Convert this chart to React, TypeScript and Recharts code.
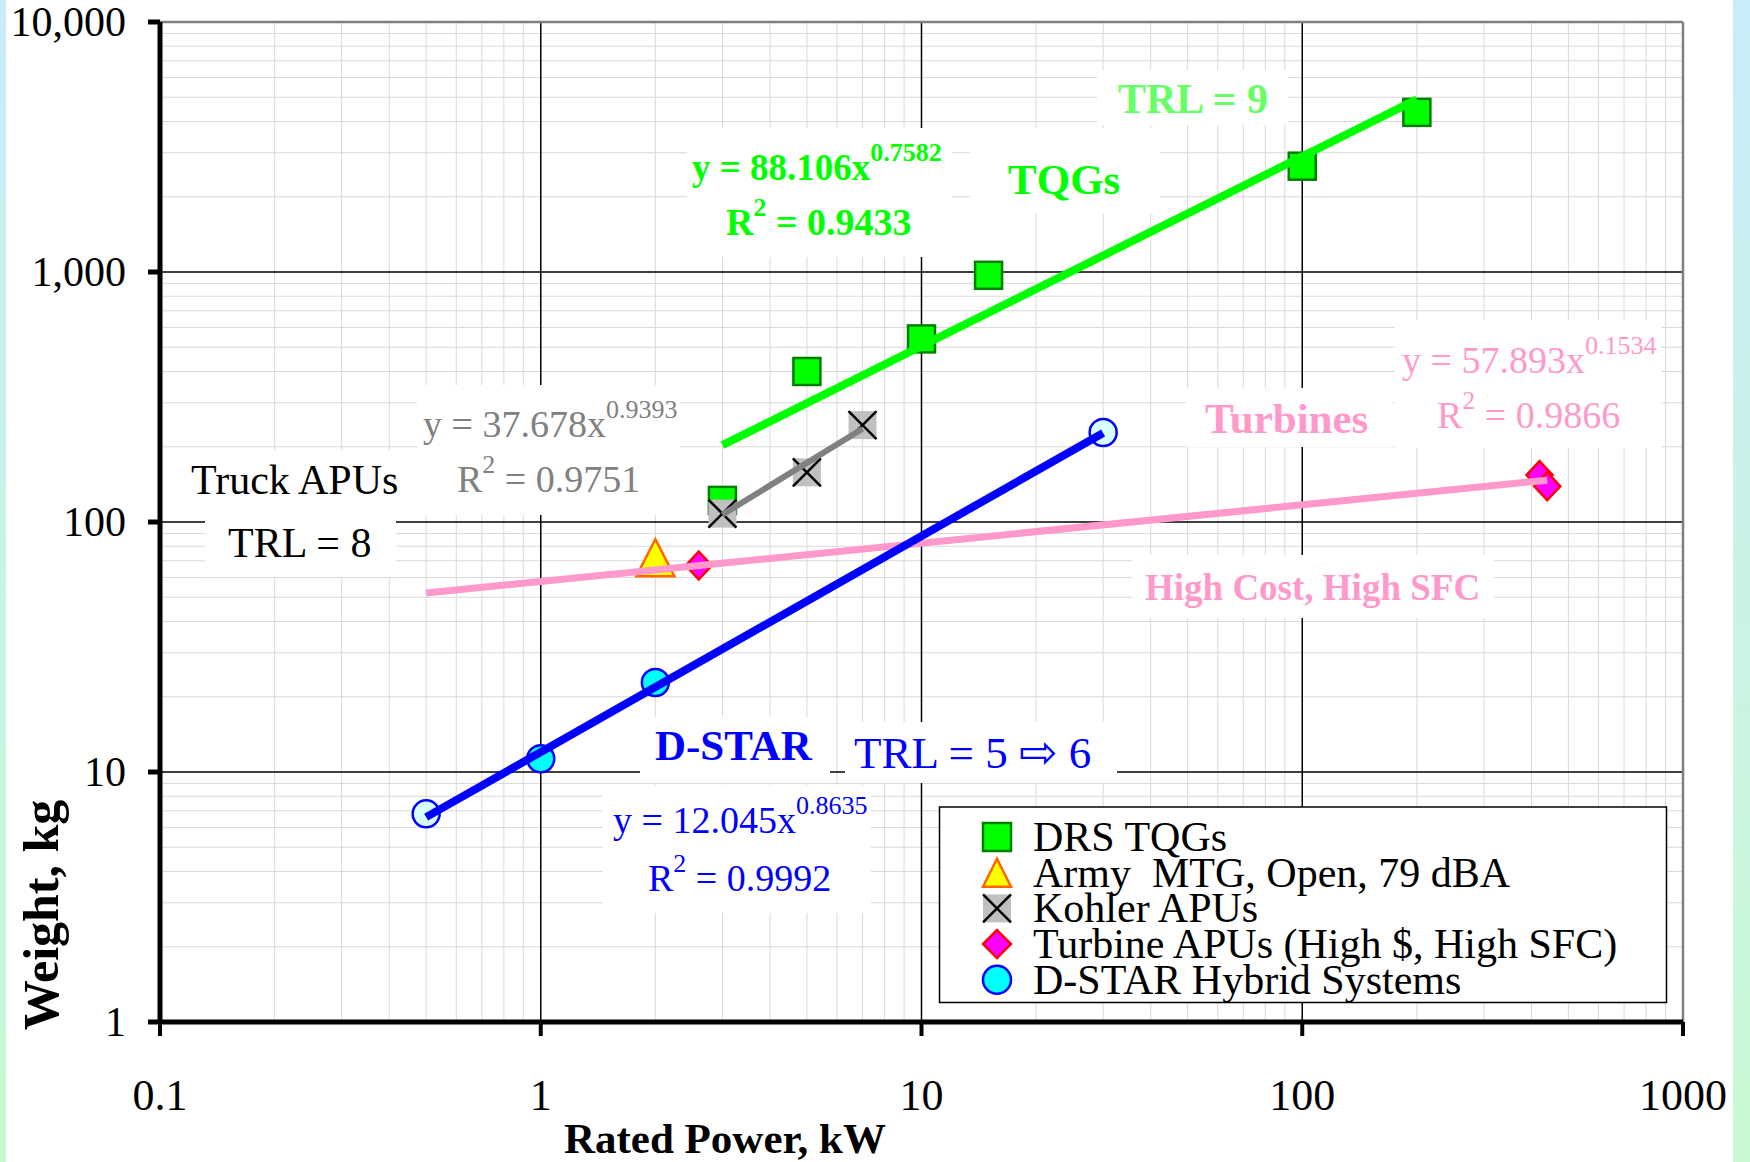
import React from 'react';
import { ScatterChart, Scatter, XAxis, YAxis, CartesianGrid, ReferenceLine } from 'recharts';

// axis ticks
const xTicks = [0.1, 1, 10, 100, 1000];
const yTicks = [1, 10, 100, 1000, 10000];
const xMajorGrid = [1, 10, 100];
const yMajorGrid = [10, 100, 1000];
const minorSteps = [2, 3, 4, 5, 6, 7, 8, 9];
const xMinorGrid = [0.1, 1, 10, 100].flatMap((d) => minorSteps.map((m) => +(d * m).toPrecision(3)));
const yMinorGrid = [1, 10, 100, 1000].flatMap((d) => minorSteps.map((m) => d * m));

// series (rated power kW / weight kg)
const tqgPower = [3, 5, 10, 15, 100, 200];
const tqgWeight = [122, 400, 540, 970, 2650, 4350];
const armyPower = [2];
const armyWeight = [72];
const kohlerPower = [3, 5, 7];
const kohlerWeight = [108, 158, 244];
const turbinePower = [2.6, 420, 440];
const turbineWeight = [67, 154, 139];
const dstarPower = [1, 2];
const dstarWeight = [11.3, 22.8];
const dstarProjPower = [0.5, 30];
const dstarProjWeight = [6.8, 228];

// power-law trend lines, end points
const tqgFitPower = [3, 200];
const tqgFitWeight = [203, 4900];
const kohlerFitPower = [3, 7];
const kohlerFitWeight = [107, 236];
const turbineFitPower = [0.5, 440];
const turbineFitWeight = [52, 147];
const dstarFitPower = [0.5, 30];
const dstarFitWeight = [6.6, 227];

const legendItems = [
  'DRS TQGs',
  'Army  MTG, Open, 79 dBA',
  'Kohler APUs',
  'Turbine APUs (High $, High SFC)',
  'D-STAR Hybrid Systems',
];

const pts = (xs: number[], ys: number[]) => xs.map((x, i) => ({ x, y: ys[i] }));

const FONT = '"Liberation Serif", "Times New Roman", serif';
const GREEN = '#00ff00';
const PINK = '#ff99cc';
const BLUE = '#0000ff';
const GRAY = '#808080';

const square = (cx: number, cy: number, s = 27) => (
  <rect x={cx - s / 2} y={cy - s / 2} width={s} height={s} fill={GREEN} stroke="#008000" strokeWidth={2.5} />
);
const triangle = (cx: number, cy: number, w = 38, h = 37) => (
  <polygon
    points={`${cx},${cy - h / 2} ${cx + w / 2},${cy + h / 2} ${cx - w / 2},${cy + h / 2}`}
    fill="#ffff00"
    stroke="#ff6600"
    strokeWidth={2.5}
  />
);
const xBox = (cx: number, cy: number, s = 28) => (
  <g>
    <rect x={cx - s / 2} y={cy - s / 2} width={s} height={s} fill="#c0c0c0" />
    <line x1={cx - s / 2} y1={cy - s / 2} x2={cx + s / 2} y2={cy + s / 2} stroke="#000" strokeWidth={2.5} />
    <line x1={cx + s / 2} y1={cy - s / 2} x2={cx - s / 2} y2={cy + s / 2} stroke="#000" strokeWidth={2.5} />
  </g>
);
const diamond = (cx: number, cy: number, w = 26, h = 28) => (
  <polygon
    points={`${cx},${cy - h / 2} ${cx + w / 2},${cy} ${cx},${cy + h / 2} ${cx - w / 2},${cy}`}
    fill="#ff00ff"
    stroke="#ff0000"
    strokeWidth={2.5}
  />
);
const circle = (cx: number, cy: number, fill = '#00ffff', r = 13.5) => (
  <circle cx={cx} cy={cy} r={r} fill={fill} stroke={BLUE} strokeWidth={2.5} />
);

const legendMarkers = [
  (cx: number, cy: number) => square(cx, cy, 28),
  (cx: number, cy: number) => triangle(cx, cy, 28, 28),
  (cx: number, cy: number) => xBox(cx, cy, 28),
  (cx: number, cy: number) => diamond(cx, cy, 28, 28),
  (cx: number, cy: number) => circle(cx, cy, '#00ffff', 14),
];

const noShape = () => <g />;

const XTick = ({ x, y, payload }: any) => (
  <text x={x} y={y + 74} textAnchor="middle" fontSize={44} fontFamily={FONT} fill="#000">
    {payload.value}
  </text>
);
const YTick = ({ x, y, payload }: any) => (
  <text x={x - 22} y={y + 14} textAnchor="end" fontSize={42} fontFamily={FONT} fill="#000">
    {Number(payload.value).toLocaleString('en-US')}
  </text>
);

const Box = ({ x1, y1, x2, y2 }: { x1: number; y1: number; x2: number; y2: number }) => (
  <rect x={x1} y={y1} width={x2 - x1} height={y2 - y1} fill="#fff" />
);

const Eq = ({ x, y, coef, exp, color, bold, size = 38 }: any) => (
  <text x={x} y={y} fill={color} fontSize={size} fontFamily={FONT} fontWeight={bold ? 'bold' : 'normal'} xmlSpace="preserve">
    {`y = ${coef}x`}
    <tspan dy={-19} fontSize={26}>{exp}</tspan>
  </text>
);
const R2 = ({ x, y, value, color, bold, size = 38 }: any) => (
  <text x={x} y={y} fill={color} fontSize={size} fontFamily={FONT} fontWeight={bold ? 'bold' : 'normal'} xmlSpace="preserve">
    R<tspan dy={-19} fontSize={26}>2</tspan>
    <tspan dy={19}>{` = ${value}`}</tspan>
  </text>
);

function Annotations() {
  return (
    <svg width={1750} height={1162} style={{ position: 'absolute', left: 0, top: 0, pointerEvents: 'none' }}>
      {/* TQGs */}
      <Box x1={1097} y1={70} x2={1288} y2={125} />
      <text x={1118} y={113} fill="#66ff66" fontSize={42} fontWeight="bold" fontFamily={FONT}>TRL = 9</text>
      <Box x1={687} y1={128} x2={952} y2={257} />
      <Eq x={692} y={180} coef="88.106" exp="0.7582" color={GREEN} bold size={37} />
      <R2 x={726} y={235} value="0.9433" color={GREEN} bold size={38} />
      <Box x1={970} y1={128} x2={1160} y2={213} />
      <text x={1008} y={194} fill={GREEN} fontSize={43} fontWeight="bold" fontFamily={FONT}>TQGs</text>

      {/* Truck APUs */}
      <Box x1={417} y1={385} x2={680} y2={515} />
      <Eq x={423} y={437} coef="37.678" exp="0.9393" color={GRAY} />
      <R2 x={457} y={492} value="0.9751" color={GRAY} />
      <Box x1={184} y1={450} x2={417} y2={515} />
      <text x={191} y={494} fill="#000" fontSize={42} fontFamily={FONT}>Truck APUs</text>
      <Box x1={205} y1={515} x2={396} y2={577} />
      <text x={228} y={557} fill="#000" fontSize={42} fontFamily={FONT}>TRL = 8</text>

      {/* Turbines */}
      <Box x1={1186} y1={388} x2={1393} y2={447} />
      <text x={1205} y={433} fill={PINK} fontSize={43} fontWeight="bold" fontFamily={FONT}>Turbines</text>
      <Box x1={1395} y1={320} x2={1661} y2={448} />
      <Eq x={1402} y={373} coef="57.893" exp="0.1534" color={PINK} />
      <R2 x={1437} y={428} value="0.9866" color={PINK} />
      <Box x1={1132} y1={555} x2={1494} y2={618} />
      <text x={1145} y={600} fill={PINK} fontSize={37} fontWeight="bold" fontFamily={FONT}>High Cost, High SFC</text>

      {/* D-STAR */}
      <Box x1={640} y1={717} x2={830} y2={783} />
      <text x={655} y={760} fill={BLUE} fontSize={43} fontWeight="bold" fontFamily={FONT}>D-STAR</text>
      <Box x1={845} y1={722} x2={1117} y2={783} />
      <text x={854} y={768} fill={BLUE} fontSize={45} fontFamily={FONT} xmlSpace="preserve">
        {'TRL = 5 '}
        <tspan fontFamily='"DejaVu Sans", sans-serif' fontSize={46}>⇨</tspan>
        {' 6'}
      </text>
      <Box x1={603} y1={785} x2={871} y2={913} />
      <Eq x={613} y={833} coef="12.045" exp="0.8635" color={BLUE} />
      <R2 x={648} y={891} value="0.9992" color={BLUE} />

      {/* legend */}
      <rect x={939.5} y={807} width={727} height={195.5} fill="#fff" stroke="#000" strokeWidth={1.5} />
      {legendItems.map((label, i) => {
        const cy = 837 + i * 35.7;
        return (
          <g key={label}>
            {legendMarkers[i](997, cy)}
            <text x={1033} y={cy + 14} fontSize={42} fontFamily={FONT} fill="#000" xmlSpace="preserve">
              {label}
            </text>
          </g>
        );
      })}

      {/* axis titles */}
      <text x={725} y={1153} textAnchor="middle" fontSize={43} fontWeight="bold" fontFamily={FONT} fill="#000">
        Rated Power, kW
      </text>
      <text
        transform="translate(57.5, 915) rotate(-90)"
        textAnchor="middle"
        fontSize={50}
        fontWeight="bold"
        fontFamily={FONT}
        fill="#000"
      >
        Weight, kg
      </text>
    </svg>
  );
}

export default function App() {
  return (
    <div
      style={{
        position: 'absolute',
        left: 0,
        top: 0,
        width: 1750,
        height: 1162,
        overflow: 'hidden',
        background: 'linear-gradient(to bottom, #c9ecf9, #c9f9d3)',
      }}
    >
      <div style={{ position: 'absolute', left: 6, top: 0, width: 1727, height: 1162, background: '#fff' }} />
      <div style={{ position: 'absolute', left: 0, top: 0 }}>
        <ScatterChart width={1750} height={1162} margin={{ top: 22, right: 67, bottom: 10, left: 10 }}>
          <CartesianGrid
            stroke="#d9d9d9"
            strokeWidth={1}
            horizontalValues={yMinorGrid}
            verticalValues={xMinorGrid}
          />
          <CartesianGrid stroke="#000" strokeWidth={1.5} horizontalValues={yMajorGrid} verticalValues={xMajorGrid} />
          <XAxis
            type="number"
            dataKey="x"
            scale="log"
            domain={[0.1, 1000]}
            allowDataOverflow
            ticks={xTicks}
            interval={0}
            height={130}
            tickSize={14}
            tickMargin={0}
            axisLine={{ stroke: '#000', strokeWidth: 5 }}
            tickLine={{ stroke: '#000', strokeWidth: 4 }}
            tick={<XTick />}
          />
          <YAxis
            type="number"
            dataKey="y"
            scale="log"
            domain={[1, 10000]}
            allowDataOverflow
            ticks={yTicks}
            interval={0}
            width={150}
            tickSize={12}
            tickMargin={0}
            axisLine={{ stroke: '#000', strokeWidth: 5 }}
            tickLine={{ stroke: '#000', strokeWidth: 5 }}
            tick={<YTick />}
          />
          <ReferenceLine y={10000} stroke={GRAY} strokeWidth={2.5} />
          <ReferenceLine x={1000} stroke={GRAY} strokeWidth={2.5} />

          <Scatter name="DRS TQGs" data={pts(tqgPower, tqgWeight)} isAnimationActive={false}
            shape={(p: any) => square(p.cx, p.cy)} />
          <Scatter name="Army MTG" data={pts(armyPower, armyWeight)} isAnimationActive={false}
            shape={(p: any) => triangle(p.cx, p.cy)} />
          <Scatter name="Kohler APUs" data={pts(kohlerPower, kohlerWeight)} isAnimationActive={false}
            shape={(p: any) => xBox(p.cx, p.cy)} />
          <Scatter name="Turbine APUs" data={pts(turbinePower, turbineWeight)} isAnimationActive={false}
            shape={(p: any) => diamond(p.cx, p.cy)} />
          <Scatter name="D-STAR projected" data={pts(dstarProjPower, dstarProjWeight)} isAnimationActive={false}
            shape={(p: any) => circle(p.cx, p.cy, '#d8ffff')} />
          <Scatter name="D-STAR Hybrid Systems" data={pts(dstarPower, dstarWeight)} isAnimationActive={false}
            shape={(p: any) => circle(p.cx, p.cy)} />

          <Scatter data={pts(tqgFitPower, tqgFitWeight)} fill={GREEN} line={{ stroke: GREEN, strokeWidth: 8 }}
            shape={noShape} isAnimationActive={false} />
          <Scatter data={pts(kohlerFitPower, kohlerFitWeight)} fill={GRAY} line={{ stroke: GRAY, strokeWidth: 6 }}
            shape={noShape} isAnimationActive={false} />
          <Scatter data={pts(turbineFitPower, turbineFitWeight)} fill={PINK} line={{ stroke: PINK, strokeWidth: 7 }}
            shape={noShape} isAnimationActive={false} />
          <Scatter data={pts(dstarFitPower, dstarFitWeight)} fill={BLUE} line={{ stroke: BLUE, strokeWidth: 8 }}
            shape={noShape} isAnimationActive={false} />
        </ScatterChart>
      </div>
      <Annotations />
    </div>
  );
}
